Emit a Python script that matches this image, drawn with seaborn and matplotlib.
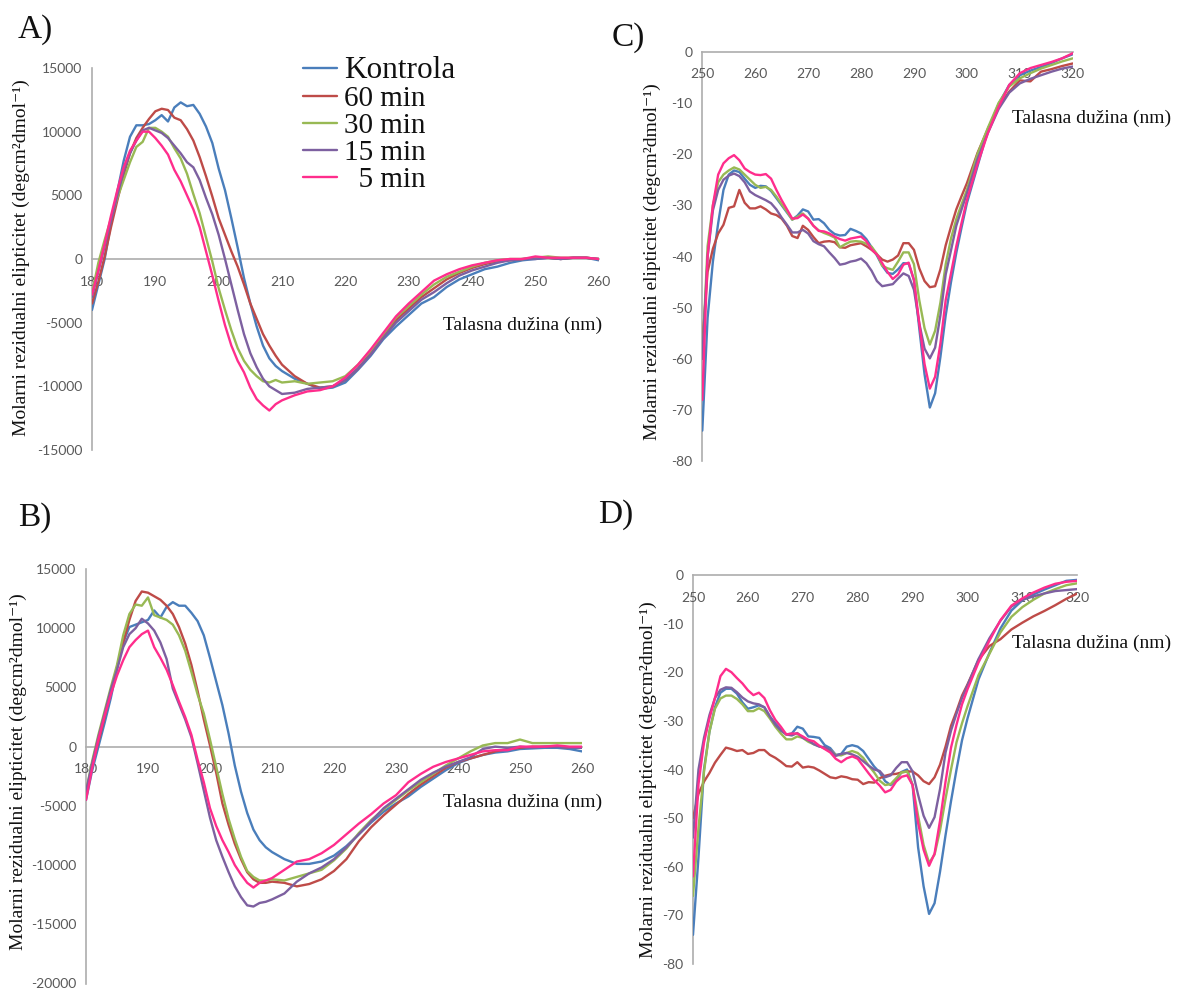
import numpy as np
import pandas as pd
import matplotlib
matplotlib.use("Agg")
import matplotlib.pyplot as plt
import seaborn as sns

# ---------------- data ----------------
series_names = ["Kontrola", "60 min", "30 min", "15 min", "5 min"]
legend_labels = ["Kontrola", "60 min", "30 min", "15 min", "  5 min"]
colors = ["#4A7EBB", "#BE4B48", "#98B954", "#7D60A0", "#FF2D8C"]

wl_far = [180, 181, 182, 183, 184, 185, 186, 187, 188, 189, 190, 191, 192, 193, 194, 195,
          196, 197, 198, 199, 200, 201, 202, 203, 204, 205, 206, 207, 208, 209, 210, 212,
          214, 216, 218, 220, 222, 224, 226, 228, 230, 232, 234, 236, 238, 240, 242, 244,
          246, 248, 250, 252, 254, 256, 258, 260]

A_kontrola = [-4000, -2000, 0, 2800, 5300, 7700, 9600, 10500, 10500, 10600, 10900, 11300, 10800, 11900, 12300, 12000,
              12100, 11400, 10400, 9100, 7100, 5400, 3200, 900, -1500, -3500, -5300, -6800, -7800, -8400, -8800, -9400,
              -9800, -10200, -10100, -9700, -8700, -7600, -6300, -5300, -4400, -3500, -3000, -2200, -1600, -1200, -800, -600,
              -300, -100, 0, 100, 0, 100, 100, -100]
A_60 = [-3500, -1800, 200, 2500, 4600, 6600, 8300, 9500, 10300, 11000, 11600, 11800, 11700, 11100, 10900, 10200,
        9300, 8000, 6500, 4900, 3200, 1900, 600, -600, -2000, -3500, -4700, -5900, -6800, -7600, -8300, -9200,
        -9800, -10100, -10000, -9500, -8600, -7400, -6000, -4800, -3900, -3000, -2300, -1600, -1100, -700, -400, -200,
        -100, 0, 100, 100, 0, 100, 100, 0]
A_30 = [-2700, -300, 1500, 3200, 4800, 6200, 7600, 8800, 9200, 10300, 10300, 10000, 9600, 8700, 7900, 6700,
        5100, 3600, 1700, -200, -2300, -4000, -5600, -7000, -8000, -8700, -9200, -9600, -9700, -9500, -9700, -9600,
        -9800, -9700, -9600, -9200, -8300, -7200, -5900, -4600, -3700, -2800, -2000, -1400, -1000, -600, -300, -100,
        0, 0, 100, 200, 100, 100, 100, 0]
A_15 = [-3000, -1000, 1000, 3000, 5000, 6900, 8300, 9300, 10100, 10300, 10100, 9900, 9500, 8900, 8300, 7600,
        7200, 6200, 4800, 3500, 1900, 0, -2000, -4000, -5900, -7400, -8500, -9400, -10000, -10300, -10600, -10500,
        -10200, -10100, -10000, -9500, -8600, -7500, -6200, -5000, -4100, -3200, -2600, -1900, -1300, -900, -600, -300,
        -100, 0, 0, 100, 0, 100, 100, 0]
A_5 = [-2800, -900, 1200, 3400, 5400, 7200, 8500, 9300, 10000, 10000, 9500, 8900, 8200, 7000, 6100, 5000,
       3900, 2500, 600, -1300, -3300, -5200, -6800, -8000, -8900, -10100, -11000, -11500, -11900, -11400, -11100, -10700,
       -10400, -10300, -10000, -9300, -8300, -7100, -5800, -4500, -3500, -2600, -1700, -1200, -800, -500, -300, -100,
       0, 0, 200, 100, 100, 100, 100, 0]

B_kontrola = [-4500, -2000, 0, 2000, 4100, 6600, 8800, 10100, 10300, 10500, 10700, 11500, 10900, 11800, 12200, 11900,
              11900, 11300, 10600, 9400, 7500, 5500, 3500, 1100, -1600, -3800, -5600, -7000, -7900, -8500, -8900, -9500,
              -9900, -9900, -9700, -9200, -8400, -7400, -6400, -5500, -4800, -4200, -3400, -2700, -2000, -1400, -1000, -700,
              -500, -400, -200, -150, -100, -100, -200, -400]
B_60 = [-4000, -1500, 400, 2500, 4600, 6700, 8800, 10700, 12300, 13100, 13000, 12700, 12400, 11900, 11200, 10100,
        8700, 6900, 4700, 2300, 100, -2200, -4800, -6600, -8200, -9500, -10600, -11200, -11500, -11500, -11400, -11500,
        -11800, -11600, -11200, -10500, -9500, -8000, -6800, -5800, -4900, -4000, -3200, -2500, -1800, -1300, -1000, -700,
        -400, -200, -100, 0, 0, 0, -100, -100]
B_30 = [-3800, -1200, 1000, 3000, 5000, 6900, 9400, 11200, 12000, 11900, 12600, 11100, 10900, 10700, 10300, 9400,
        8100, 6300, 4400, 2800, 600, -1700, -4000, -6100, -7800, -9300, -10500, -11000, -11300, -11300, -11200, -11300,
        -11000, -10700, -10400, -9600, -8600, -7300, -6200, -5300, -4500, -3700, -3000, -2300, -1600, -1000, -400, 100,
        300, 300, 600, 300, 300, 300, 300, 300]
B_15 = [-3800, -1400, 800, 2800, 4800, 6500, 8400, 9500, 10000, 10800, 10400, 9800, 8800, 7400, 4900, 3600,
        2300, 800, -1400, -3700, -6000, -7900, -9300, -10600, -11800, -12700, -13400, -13500, -13200, -13100, -12900, -12400,
        -11400, -10700, -10200, -9500, -8500, -7400, -6300, -5200, -4400, -3600, -2800, -2200, -1700, -1300, -900, -200,
        0, -100, 0, -100, 0, 0, -100, -100]
B_5 = [-4500, -1800, 600, 2600, 4400, 6000, 7300, 8400, 9000, 9500, 9800, 8400, 7500, 6500, 5200, 3800,
       2500, 1000, -1100, -3000, -5200, -6700, -7900, -8900, -10000, -10800, -11500, -11900, -11500, -11300, -11100, -10400,
       -9700, -9500, -9000, -8300, -7400, -6500, -5700, -4800, -4100, -3000, -2300, -1700, -1300, -1000, -700, -400,
       -300, -300, 0, 0, 0, 100, 0, 0]

wl_near = [250, 251, 252, 253, 254, 255, 256, 257, 258, 259, 260, 261, 262, 263, 264, 265, 266, 267, 268, 269,
           270, 271, 272, 273, 274, 275, 276, 277, 278, 279, 280, 281, 282, 283, 284, 285, 286, 287, 288, 289,
           290, 291, 292, 293, 294, 295, 296, 297, 298, 299, 300, 302, 304, 306, 308, 310, 312, 314, 316, 318, 320]

C_kontrola = [-74, -52, -41, -33.5, -27, -24, -23.2, -23.5, -24.8, -26, -26.6, -26.2, -26.3, -27.2, -28.6, -30, -31.4, -32.8, -32, -30.8,
              -31.2, -32.8, -32.7, -33.5, -34.8, -35.6, -35.9, -35.8, -34.6, -35, -35.5, -36.6, -38.2, -39.8, -41.8, -43.2, -43.4, -42.5, -41.3, -41.4,
              -44.6, -54, -63, -69.5, -66.7, -59.6, -51.5, -45, -39.3, -34.3, -29.6, -22.4, -15.2, -10.2, -6.5, -4.6, -3.7, -3, -2.2, -1.3, -0.5]
C_60 = [-57, -43, -38.5, -35.5, -33.8, -30.5, -30.2, -27, -29.5, -30.6, -30.6, -30.2, -30.8, -31.6, -31.9, -32.6, -34, -36, -36.4, -34,
        -34.8, -36.2, -37.4, -37.1, -37, -37.2, -38.2, -38.3, -37.8, -37.6, -37.4, -38, -38.7, -39.6, -40.6, -41, -40.6, -39.8, -37.4, -37.4,
        -38.7, -42.3, -44.8, -46, -45.8, -42.5, -37.8, -34.2, -30.8, -28.2, -25.7, -19.8, -15, -10.8, -7.8, -5.6, -5.8, -3.9, -3.4, -2.8, -2.3]
C_30 = [-60, -38, -30, -25.5, -24, -23.2, -22.6, -23, -24, -25, -26, -26.6, -26.4, -27, -28.3, -29.8, -31.2, -32.8, -32.2, -31.6,
        -32.6, -34, -34.9, -35.4, -35.8, -36.3, -38.2, -37.6, -37.1, -37, -37.1, -37.5, -38.1, -39.5, -41.8, -42.3, -42.6, -41, -39.2, -39.2,
        -41.5, -48.5, -54, -57.2, -54.5, -49, -41.5, -36.5, -32.7, -29.8, -27, -20, -14.8, -10, -6.8, -5.2, -4.2, -3.3, -2.6, -1.9, -1.3]
C_15 = [-60, -40, -31, -27, -25, -24.2, -23.8, -24.3, -25.5, -27.3, -28, -28.5, -29, -29.6, -30.8, -32.4, -33.8, -35.3, -35.3, -34.8,
        -35.5, -37, -37.6, -38, -39.2, -40.3, -41.6, -41.4, -41, -40.8, -40.4, -41.3, -42.8, -44.8, -45.8, -45.6, -45.4, -44.3, -43.3, -43.8,
        -46.5, -53, -58, -59.9, -57.8, -51.5, -43.5, -38.8, -34, -30.8, -27.7, -21, -15.8, -11.2, -8, -6.2, -5.3, -4.6, -3.9, -3.3, -2.9]
C_5 = [-68, -40, -30, -24, -21.8, -20.8, -20.2, -21.2, -22.8, -23.5, -24, -24.1, -23.9, -24.8, -27, -29, -30.8, -32.6, -32.5, -31.8,
       -32.6, -34, -35, -35.1, -35.5, -36.1, -36.6, -36.9, -36.5, -36.3, -36.1, -37, -38.6, -39.6, -41.3, -43, -44.4, -43.5, -41.6, -41.2,
       -44.6, -53, -61, -65.8, -63.5, -57, -48.5, -43.3, -38, -33.4, -29, -22, -15.8, -10.8, -6.5, -4.2, -3.2, -2.6, -2, -1.3, -0.3]

D_kontrola = [-74, -58, -40, -32.2, -27.2, -24.2, -23.4, -23.4, -24.4, -26.2, -27.5, -27.2, -26.8, -27.2, -29.1, -30.5, -31.8, -32.8, -32.6, -31.2,
              -31.6, -33.2, -33.3, -33.5, -35, -35.6, -37, -36.8, -35.3, -35, -35.3, -36.2, -37.8, -39.4, -40.6, -42.4, -43.2, -42.2, -40.5, -40,
              -43.2, -56, -64, -69.7, -67.5, -61, -53.5, -46.5, -40, -34, -29.5, -21.5, -16, -11, -7.3, -5.2, -4, -3, -2.1, -1.2, -1]
D_60 = [-50, -45, -42.5, -40.7, -38.6, -37, -35.5, -35.8, -36.2, -36, -36.8, -36.6, -36, -36, -37, -37.6, -38.4, -39.3, -39.4, -38.5,
        -39.6, -39.4, -39.6, -40.2, -40.9, -41.6, -41.8, -41.4, -41.6, -42, -42.1, -43, -42.6, -42.7, -41.8, -41.3, -41, -40.9, -40.6, -40.4,
        -40.4, -41.2, -42.4, -43, -41.6, -39, -35.3, -31, -28, -24.8, -22.5, -17.5, -14.6, -13.2, -11.2, -9.8, -8.5, -7.4, -6.2, -4.9, -3.8]
D_30 = [-66, -52, -40.5, -32.2, -27.5, -25.4, -24.8, -24.8, -25.5, -26.6, -28, -28, -27.4, -28, -29.5, -31.2, -32.6, -33.8, -33.8, -33.2,
        -33.5, -34.3, -34.8, -35.2, -35.7, -36, -37, -37.1, -36.6, -36.2, -36.6, -37.6, -39.2, -40.6, -42.3, -43.2, -43, -41.8, -40.6, -40.4,
        -43.2, -49.5, -55.5, -59.2, -57.5, -52.5, -46, -40, -34.4, -30.5, -27, -20.6, -16.2, -11.8, -8.6, -6.6, -5.1, -3.8, -2.9, -2.1, -1.7]
D_15 = [-54, -40, -33.5, -28.8, -25.3, -23.6, -23.1, -23.2, -24.1, -25.2, -26, -26.4, -26.6, -27.2, -29.1, -30.8, -32, -32.8, -33, -32.5,
        -33.5, -34, -34.8, -35.3, -35.4, -36, -37.2, -36.8, -36.6, -36.9, -37.4, -38.3, -39.2, -40, -40.3, -41.6, -41.2, -39.7, -38.5, -38.5,
        -40.4, -45.2, -49.5, -52, -49.8, -44, -36.5, -32, -28.5, -25.3, -22.7, -17.3, -13, -9.4, -6.5, -5.1, -4.4, -3.8, -3.3, -3.1, -2.9]
D_5 = [-62, -43, -34.5, -29.5, -25.3, -20.8, -19.3, -20, -21.2, -22.3, -23.7, -24.7, -24.2, -25.3, -27.8, -29.8, -31.2, -32.8, -32.6, -32.6,
       -33.2, -33.9, -34.2, -35.1, -35.8, -36.5, -37.8, -38.5, -37.7, -37.3, -37.8, -39.3, -40.8, -42.2, -43.3, -44.7, -44.2, -42.5, -41.5, -41.2,
       -43.2, -51, -56.5, -59.8, -57.3, -50.5, -42.5, -35.5, -30.8, -26.6, -23.5, -18, -13.5, -9.3, -6.3, -4.8, -3.6, -2.6, -1.8, -1.4, -1.2]

A_ticks_y = [-15000, -10000, -5000, 0, 5000, 10000, 15000]
B_ticks_y = [-20000, -15000, -10000, -5000, 0, 5000, 10000, 15000]
CD_ticks_y = [-80, -70, -60, -50, -40, -30, -20, -10, 0]
far_ticks_x = [180, 190, 200, 210, 220, 230, 240, 250, 260]
near_ticks_x = [250, 260, 270, 280, 290, 300, 310, 320]

ylabel_text = "Molarni rezidualni elipticitet (degcm²dmol⁻¹)"
xlabel_text = "Talasna dužina (nm)"

# ---------------- style ----------------
sns.set_style("white")
plt.rcParams["font.family"] = ["Lato", "DejaVu Sans"]
plt.rcParams["axes.unicode_minus"] = False
SERIF = ["Liberation Serif", "DejaVu Serif"]
GRAY = "#ADADAD"
TICKC = "#595959"

W, H = 1185, 990
fig = plt.figure(figsize=(W / 100, H / 100), dpi=100)


def make_axes(left, right, top, bottom):
    return fig.add_axes([left / W, 1 - bottom / H, (right - left) / W, (bottom - top) / H])


def long_df(x, ys):
    frames = []
    for name, y in zip(series_names, ys):
        frames.append(pd.DataFrame({"nm": x, "val": y, "series": name}))
    return pd.concat(frames, ignore_index=True)


def draw_panel(ax, x, ys, xlim, ylim, xticks, yticks):
    df = long_df(x, ys)
    sns.lineplot(data=df, x="nm", y="val", hue="series", hue_order=series_names,
                 palette=colors, ax=ax, legend=False, linewidth=1.7,
                 estimator=None, sort=False)
    ax.set_xlim(*xlim)
    ax.set_ylim(*ylim)
    ax.set_xticks(xticks)
    ax.set_yticks(yticks)
    ax.set_xlabel("")
    ax.set_ylabel("")
    for s in ["top", "right"]:
        ax.spines[s].set_visible(False)
    ax.spines["bottom"].set_position(("data", 0))
    for s in ["left", "bottom"]:
        ax.spines[s].set_color(GRAY)
        ax.spines[s].set_linewidth(1.2)
        ax.spines[s].set_zorder(0.5)
    ax.tick_params(axis="both", which="major", direction="out", length=4, width=1,
                   color=GRAY, labelcolor=TICKC, labelsize=10)
    ax.tick_params(axis="x", pad=8)
    ax.tick_params(axis="y", pad=3)
    ax.patch.set_alpha(0)


axA = make_axes(92, 598.7, 68, 450)
draw_panel(axA, wl_far, [A_kontrola, A_60, A_30, A_15, A_5], (180, 260), (-15000, 15000), far_ticks_x, A_ticks_y)

axB = make_axes(86, 582, 569, 983.5)
draw_panel(axB, wl_far, [B_kontrola, B_60, B_30, B_15, B_5], (180, 260), (-20000, 15000), far_ticks_x, B_ticks_y)

axC = make_axes(702.3, 1072.7, 51.7, 461.3)
draw_panel(axC, wl_near, [C_kontrola, C_60, C_30, C_15, C_5], (250, 320), (-80, 0), near_ticks_x, CD_ticks_y)

axD = make_axes(693, 1077.3, 575, 964)
draw_panel(axD, wl_near, [D_kontrola, D_60, D_30, D_15, D_5], (250, 320), (-80, 0), near_ticks_x, CD_ticks_y)


def ftext(px, py, s, **kw):
    fig.text(px / W, 1 - py / H, s, **kw)


for (px, py) in [(21, 258), (652, 262), (18, 772), (648, 780)]:
    ftext(px, py, ylabel_text, rotation=90, ha="center", va="center",
          fontsize=14, family=SERIF, color="#111111")

for (px, py) in [(443, 325), (1012, 118), (443, 802), (1012, 643)]:
    ftext(px, py, xlabel_text, ha="left", va="center", fontsize=14, family=SERIF, color="#111111")

for (px, py, s) in [(18, 30, "A)"), (612, 38, "C)"), (18, 518, "B)"), (598, 515, "D)")]:
    ftext(px, py, s, ha="left", va="center", fontsize=24, family=SERIF, color="#111111")

# legend (panel A)
handles = axA.get_lines()[:5]
leg = axA.legend(handles, legend_labels, loc="upper left",
                 bbox_to_anchor=(303 / W, 1 - 56 / H), bbox_transform=fig.transFigure,
                 frameon=False, borderpad=0, borderaxespad=0, labelspacing=0.02,
                 handlelength=1.15, handletextpad=0.25,
                 prop={"family": SERIF, "size": 21})
for t in leg.get_texts():
    t.set_color("#111111")
leg.get_texts()[0].set_fontsize(22.5)

fig.savefig("out.png", dpi=100)
